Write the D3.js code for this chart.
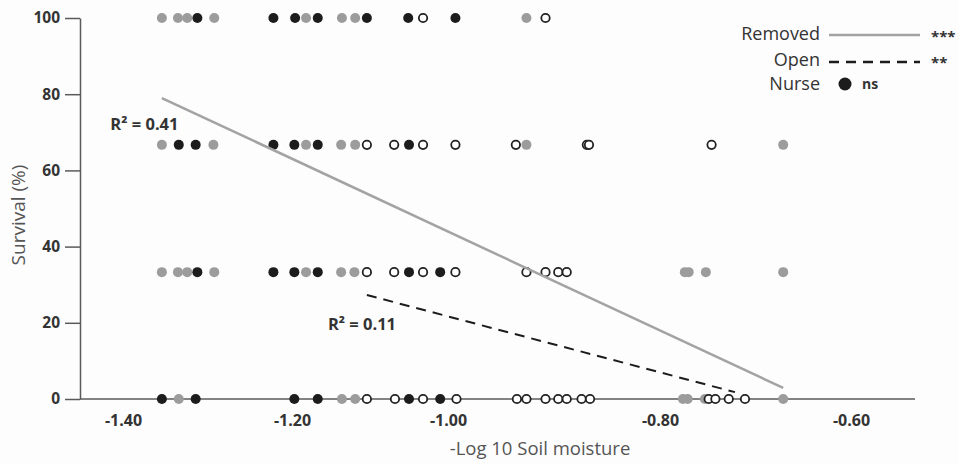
<!DOCTYPE html>
<html>
<head>
<meta charset="utf-8">
<script src="https://cdn.jsdelivr.net/npm/d3@7"></script>
<style>
  html, body { margin: 0; padding: 0; background: #fdfdfd; }
  svg { display: block; font-family: "Open Sans", "Liberation Sans", sans-serif; }
</style>
</head>
<body>
<svg id="chart" width="959" height="464"></svg>
<script>
// ---------------- data ----------------
const xTickValues = [-1.40, -1.20, -1.00, -0.80, -0.60];
const yTickValues = [0, 20, 40, 60, 80, 100];

// Removed (grey filled)
const removedX = [-1.354, -1.335, -1.324, -1.292, -1.182, -1.136, -1.119, -0.926,
                  -1.354, -1.293, -1.182, -1.137, -1.119, -0.926, -0.671,
                  -1.354, -1.335, -1.324, -1.292, -1.182, -1.137, -1.120, -0.774, -0.770, -0.752, -0.671,
                  -1.334, -1.136, -1.119, -0.776, -0.771, -0.753, -0.671];
const removedY = [100, 100, 100, 100, 100, 100, 100, 100,
                  66.7, 66.7, 66.7, 66.7, 66.7, 66.7, 66.7,
                  33.3, 33.3, 33.3, 33.3, 33.3, 33.3, 33.3, 33.3, 33.3, 33.3, 33.3,
                  0, 0, 0, 0, 0, 0, 0];

// Nurse (black filled)
const nurseX = [-1.312, -1.222, -1.196, -1.167, -1.104, -1.051, -0.993,
                -1.334, -1.314, -1.222, -1.197, -1.167, -1.050,
                -1.312, -1.222, -1.197, -1.167, -1.050, -1.010,
                -1.354, -1.314, -1.197, -1.167, -1.050, -1.010];
const nurseY = [100, 100, 100, 100, 100, 100, 100,
                66.7, 66.7, 66.7, 66.7, 66.7, 66.7,
                33.3, 33.3, 33.3, 33.3, 33.3, 33.3,
                0, 0, 0, 0, 0, 0];

// Open (hollow)
const openX = [-1.032, -0.908,
               -1.104, -1.069, -1.032, -0.993, -0.936, -0.869, -0.867, -0.746,
               -1.104, -1.069, -1.032, -0.993, -0.926, -0.908, -0.896, -0.888,
               -1.104, -1.068, -1.032, -0.992, -0.935, -0.926, -0.908, -0.896, -0.888, -0.874, -0.866,
               -0.749, -0.742, -0.728, -0.711];
const openY = [100, 100,
               66.7, 66.7, 66.7, 66.7, 66.7, 66.7, 66.7, 66.7,
               33.3, 33.3, 33.3, 33.3, 33.3, 33.3, 33.3, 33.3,
               0, 0, 0, 0, 0, 0, 0, 0, 0, 0, 0,
               0, 0, 0, 0];

// fitted lines (endpoints)
const removedFitX = [-1.354, -0.671];
const removedFitY = [79.0, 2.9];
const openFitX = [-1.104, -0.7215];
const openFitY = [27.3, 1.8];

const legendLabels = ["Removed", "Open", "Nurse"];
const legendSig = ["***", "**", "ns"];
const r2Labels = ["R² = 0.41", "R² = 0.11"];
const r2Pos = [[-1.415, 70.5], [-1.154, 18.0]];

// ---------------- drawing ----------------
const svg = d3.select("#chart");
const x = d3.scaleLinear().domain(xTickValues).range([123, 292, 448, 660, 851]);
const y = d3.scaleLinear().domain([0, 100]).range([399, 18]);
const axisColor = "#5a5a5a";
const textColor = "#333";

// y axis
const yAxis = svg.append("g").attr("transform", "translate(80,0)")
  .call(d3.axisLeft(y).tickValues(yTickValues).tickSize(15).tickSizeOuter(0).tickPadding(5));
yAxis.select(".domain").attr("stroke", axisColor).attr("stroke-width", 1.5);
yAxis.selectAll(".tick line").attr("stroke", axisColor).attr("stroke-width", 1.5);
yAxis.selectAll(".tick text").attr("fill", textColor).attr("font-size", 15.5)
  .attr("font-weight", 700).attr("font-family", "'Open Sans', sans-serif");

// x axis (line only, labels without tick marks)
svg.append("line").attr("x1", 80).attr("x2", 915).attr("y1", y(0)).attr("y2", y(0))
  .attr("stroke", axisColor).attr("stroke-width", 1.5);
const xAxis = svg.append("g").attr("transform", `translate(0,${y(0)})`)
  .call(d3.axisBottom(x).tickValues(xTickValues).tickFormat(d3.format(".2f")).tickSize(0).tickPadding(16));
xAxis.select(".domain").remove();
xAxis.selectAll(".tick text").attr("fill", textColor).attr("font-size", 16)
  .attr("font-weight", 700).attr("font-family", "'Open Sans', sans-serif")
  .text(d => d3.format(".2f")(d).replace("−", "-"));

// axis titles
svg.append("text").attr("x", 540).attr("y", 455).attr("text-anchor", "middle")
  .attr("font-size", 18.5).attr("fill", "#555").text("-Log 10 Soil moisture");
svg.append("text").attr("transform", "translate(25,215) rotate(-90)").attr("text-anchor", "middle")
  .attr("font-size", 19).attr("fill", "#555").text("Survival (%)");

// points
const grey = "#9c9c9c", black = "#1c1c1c";
svg.append("g").selectAll("circle").data(removedX.map((v, i) => [v, removedY[i]])).join("circle")
  .attr("cx", d => x(d[0])).attr("cy", d => y(d[1])).attr("r", 5).attr("fill", grey);
svg.append("g").selectAll("circle").data(nurseX.map((v, i) => [v, nurseY[i]])).join("circle")
  .attr("cx", d => x(d[0])).attr("cy", d => y(d[1])).attr("r", 5).attr("fill", black);
svg.append("g").selectAll("circle").data(openX.map((v, i) => [v, openY[i]])).join("circle")
  .attr("cx", d => x(d[0])).attr("cy", d => y(d[1])).attr("r", 4.2)
  .attr("fill", "#fff").attr("stroke", "#222").attr("stroke-width", 1.8);

// fit lines
const line = d3.line().x(d => x(d[0])).y(d => y(d[1]));
svg.append("path").attr("d", line(removedFitX.map((v, i) => [v, removedFitY[i]])))
  .attr("stroke", "#a3a3a3").attr("stroke-width", 2.5).attr("fill", "none");
svg.append("path").attr("d", line(openFitX.map((v, i) => [v, openFitY[i]])))
  .attr("stroke", "#1c1c1c").attr("stroke-width", 2).attr("stroke-dasharray", "10,7").attr("fill", "none");

// R² labels
svg.append("g").selectAll("text").data(r2Labels).join("text")
  .attr("x", (d, i) => x(r2Pos[i][0])).attr("y", (d, i) => y(r2Pos[i][1]))
  .attr("font-size", 16.5).attr("font-weight", 700).attr("fill", textColor).text(d => d);

// legend
const lg = svg.append("g");
const legY = [34, 60, 84];
lg.selectAll("text.lab").data(legendLabels).join("text").attr("class", "lab")
  .attr("x", 820).attr("y", (d, i) => legY[i] + 6).attr("text-anchor", "end")
  .attr("font-size", 18).attr("fill", "#333").text(d => d);
lg.append("line").attr("x1", 829).attr("x2", 920).attr("y1", legY[0] + 1).attr("y2", legY[0] + 1)
  .attr("stroke", "#a3a3a3").attr("stroke-width", 2.5);
lg.append("line").attr("x1", 829).attr("x2", 920).attr("y1", legY[1] + 2).attr("y2", legY[1] + 2)
  .attr("stroke", "#1c1c1c").attr("stroke-width", 2.5).attr("stroke-dasharray", "10,7");
lg.append("circle").attr("cx", 845).attr("cy", legY[2]).attr("r", 6.5).attr("fill", black);
lg.selectAll("text.sig").data(legendSig).join("text").attr("class", "sig")
  .attr("x", (d, i) => i === 2 ? 862 : 931).attr("y", (d, i) => legY[i] + (i === 2 ? 5 : 8))
  .attr("font-size", (d, i) => i === 2 ? 14 : 15).attr("font-weight", 700).attr("fill", "#333").text(d => d);
</script>
</body>
</html>
